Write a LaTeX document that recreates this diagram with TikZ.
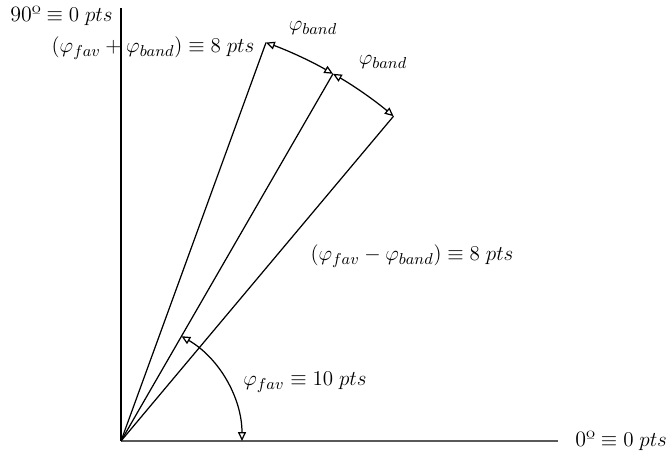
\documentclass[tikz,border=0pt]{standalone}
\usepackage{amsmath,amssymb}
\usepackage{tikz}
\usetikzlibrary{arrows.meta, positioning, calc}

\begin{document}
\begin{tikzpicture}[
    x=0.02cm, y=0.02cm,
    font=\fontsize{12.5}{15}\selectfont,
    axis/.style={line width=0.7pt, #1},
    ray/.style={line width=0.7pt, black},
    angarrow/.style={
        {Triangle[open,length=5pt,width=4.5pt]}-{Triangle[open,length=5pt,width=4.5pt]},
        line width=0.7pt
    },
    lbl/.style={inner sep=0pt},
]

\useasboundingbox (-121,-12) rectangle (549,441);

% ============================================================
% Axes and rays
% ============================================================

\coordinate (O) at (0,0);
\coordinate (ytop) at (0,433);
\coordinate (xend) at (437,0);
\coordinate (hi) at (70:424);
\coordinate (fav) at (60:424);
\coordinate (lo) at (50:424);
\coordinate (zero) at (0:121);

\draw[axis={black}] (O) -- (ytop);
\draw[axis={black!65}] (O) -- (xend);

\draw[ray] (O) -- (hi);
\draw[ray] (O) -- (fav);
\draw[ray] (O) -- (lo);

% ============================================================
% Angle arcs
% ============================================================

\draw[angarrow] (fav) arc[start angle=60, end angle=70, radius=424];
\draw[angarrow] (lo) arc[start angle=50, end angle=60, radius=424];
\draw[angarrow] (zero) arc[start angle=0, end angle=60, radius=121];

% ============================================================
% Labels
% ============================================================

\node[lbl, anchor=east] (ylbl) at (-8,425) {90º$\;\equiv 0\;pts$};
\node[lbl, anchor=west] (xlbl) at (454,0) {0º$\;\equiv 0\;pts$};
\node[lbl] (uplbl) at (32,393) {$(\varphi_{fav}+\varphi_{band})\equiv 8\;pts$};
\node[lbl] (band1) at (192,413) {$\varphi_{band}$};
\node[lbl] (band2) at (262,379) {$\varphi_{band}$};
\node[lbl] (dnlbl) at (291,185) {$(\varphi_{fav}-\varphi_{band})\equiv 8\;pts$};
\node[lbl] (favlbl) at (184,59) {$\varphi_{fav}\equiv 10\;pts$};

\end{tikzpicture}
\end{document}
